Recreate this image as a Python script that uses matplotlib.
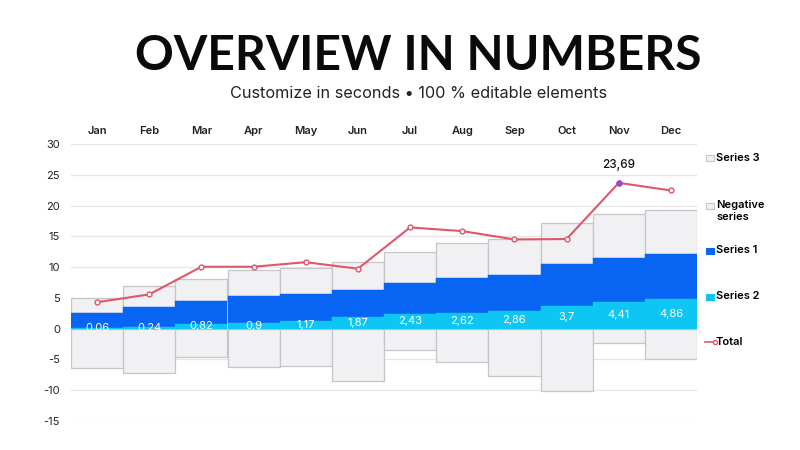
import matplotlib
matplotlib.use("Agg")
from matplotlib import pyplot as plt
from matplotlib.patches import Rectangle
from matplotlib.lines import Line2D
import numpy as np

months = ["Jan", "Feb", "Mar", "Apr", "May", "Jun", "Jul", "Aug", "Sep", "Oct", "Nov", "Dec"]
series2 = [0.06, 0.24, 0.82, 0.9, 1.17, 1.87, 2.43, 2.62, 2.86, 3.7, 4.41, 4.86]
series1 = [2.49, 3.33, 3.62, 4.35, 4.46, 4.46, 4.97, 5.55, 5.91, 6.74, 7.06, 7.21]
series3 = [2.43, 3.33, 3.62, 4.25, 4.22, 4.44, 5.0, 5.68, 5.79, 6.76, 7.09, 7.23]
negative = [-6.4, -7.25, -4.6, -6.28, -6.1, -8.44, -3.47, -5.47, -7.68, -10.06, -2.38, -4.93]
total = [4.3, 5.57, 10.06, 10.06, 10.8, 9.74, 16.45, 15.85, 14.5, 14.56, 23.69, 22.45]
yticks = [-15, -10, -5, 0, 5, 10, 15, 20, 25, 30]

BLUE = "#0864f2"
CYAN = "#0ec6f4"
GREY = "#f1f0f2"
EDGE = "#c6c5cb"
RED = "#e0566b"

plt.rcParams["font.family"] = ["Inter", "DejaVu Sans"]

fig = plt.figure(figsize=(8, 4.5), dpi=100)
fig.patch.set_facecolor("white")
ax = fig.add_axes([0.08875, 0.0644, 0.7825, 0.6156])

x = np.arange(len(months))
s2 = np.array(series2)
s1 = np.array(series1)
s3 = np.array(series3)

ax.bar(x, negative, width=1.0, color=GREY, edgecolor=EDGE, linewidth=0.9, zorder=2)
ax.bar(x, s3, bottom=s1 + s2, width=1.0, color=GREY, edgecolor=EDGE, linewidth=0.9, zorder=2)
ax.bar(x, s1, bottom=s2, width=1.0, color=BLUE, edgecolor=BLUE, linewidth=0.3, zorder=3)
ax.bar(x, s2, width=1.0, color=CYAN, edgecolor=CYAN, linewidth=0.3, zorder=3)

for i, v in enumerate(series2):
    ax.text(x[i], v / 2, "{}".format(v).replace(".", ","), color="white",
            ha="center", va="center", fontsize=8, zorder=5)

ax.plot(x, total, color=RED, linewidth=1.5, marker="o", markersize=3.5,
        markerfacecolor="white", markeredgecolor=RED, markeredgewidth=1, zorder=4)
nov = months.index("Nov")
ax.plot(x[nov], total[nov], "o", color="#8a4fd0", markersize=3.5, zorder=5)
ax.text(x[nov], total[nov] + 1.9, "{}".format(total[nov]).replace(".", ","),
        ha="center", va="bottom", fontsize=8.5, fontweight="medium", color="#111111")

ax.set_xlim(-0.5, len(months) - 0.5)
ax.set_ylim(-15, 30)
ax.set_yticks(yticks)
ax.set_yticklabels([str(t) for t in yticks], fontsize=8, color="#222222")
ax.set_xticks(x)
ax.set_xticklabels(months, fontsize=8, fontweight="semibold", color="#222222")
ax.xaxis.tick_top()
ax.tick_params(axis="both", length=0)
ax.tick_params(axis="x", pad=6)
ax.tick_params(axis="y", pad=8)
ax.grid(axis="y", color="#e6e6e8", linewidth=0.9, zorder=0)
ax.set_axisbelow(True)
for s in ax.spines.values():
    s.set_visible(False)

fig.text(0.5225, 0.876, "OVERVIEW IN NUMBERS", ha="center", va="center",
         fontsize=34.7, fontweight="bold", color="#0a0a0a", family=["Lato", "DejaVu Sans"])
fig.text(0.5225, 0.793, "Customize in seconds \u2022 100 % editable elements", ha="center",
         va="center", fontsize=11.7, color="#222222")

# legend drawn by hand
def legend_box(ypx, face, edge):
    fig.add_artist(Rectangle((706 / 800, 1 - (ypx + 3.5) / 450), 8 / 800, 6 / 450,
                             facecolor=face, edgecolor=edge, linewidth=0.8,
                             transform=fig.transFigure))

lx = 716 / 800
legend_box(158, GREY, EDGE)
fig.text(lx, 1 - 158 / 450, "Series 3", fontsize=8, fontweight="semibold", va="center")
legend_box(205, GREY, EDGE)
fig.text(lx, 1 - 211 / 450, "Negative\nseries", fontsize=8, fontweight="semibold",
         va="center", linespacing=1.25)
legend_box(250, BLUE, BLUE)
fig.text(lx, 1 - 250 / 450, "Series 1", fontsize=8, fontweight="semibold", va="center")
legend_box(296, CYAN, CYAN)
fig.text(lx, 1 - 296 / 450, "Series 2", fontsize=8, fontweight="semibold", va="center")
fig.add_artist(Line2D([705 / 800, 715 / 800], [1 - 342 / 450, 1 - 342 / 450], color=RED,
                      linewidth=1.2, marker="o", markersize=3, markevery=[1],
                      markerfacecolor="white", markeredgecolor=RED,
                      transform=fig.transFigure))
fig.text(lx, 1 - 342 / 450, "Total", fontsize=8, fontweight="semibold", va="center")

fig.savefig("out.png", dpi=100, facecolor="white")
